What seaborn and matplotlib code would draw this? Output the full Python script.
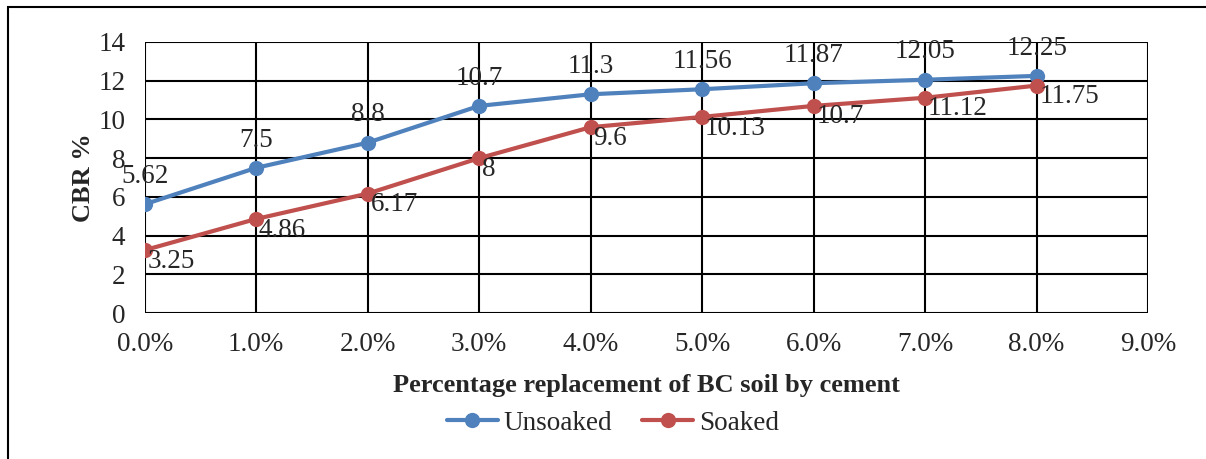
import pandas as pd
import numpy as np
import seaborn as sns
import matplotlib.pyplot as plt
from matplotlib.patches import Rectangle
from matplotlib.ticker import FuncFormatter

# data
replacement = [0.0, 1.0, 2.0, 3.0, 4.0, 5.0, 6.0, 7.0, 8.0]
unsoaked = [5.62, 7.5, 8.8, 10.7, 11.3, 11.56, 11.87, 12.05, 12.25]
soaked = [3.25, 4.86, 6.17, 8, 9.6, 10.13, 10.7, 11.12, 11.75]
series_names = ['Unsoaked', 'Soaked']
colors = ['#4F81BD', '#C0504D']

df = pd.DataFrame({
    'pct': replacement * 2,
    'cbr': unsoaked + soaked,
    'series': ['Unsoaked'] * len(unsoaked) + ['Soaked'] * len(soaked),
})

sns.set_style('white')
plt.rcParams['font.family'] = ['Liberation Serif', 'DejaVu Serif']

fig = plt.figure(figsize=(12.06, 4.59), dpi=100)
ax = fig.add_axes([0.120, 0.318, 0.832, 0.5905])

sns.lineplot(data=df, x='pct', y='cbr', hue='series', hue_order=series_names,
             palette=colors, marker='o', markersize=11, markeredgewidth=0,
             linewidth=3, ax=ax, legend=False)

ax.set_xlim(0, 9)
ax.set_ylim(0, 14)
ax.set_xticks(np.arange(0, 10, 1))
ax.set_yticks(np.arange(0, 15, 2))
ax.xaxis.set_major_formatter(FuncFormatter(lambda v, p: f'{v:.1f}%'))
ax.grid(True, color='black', linewidth=1.5)
ax.set_axisbelow(True)
for s in ax.spines.values():
    s.set_visible(False)
ax.tick_params(axis='both', labelsize=19.5, length=0)
ax.tick_params(axis='x', pad=14)
ax.tick_params(axis='y', pad=14)

ax.set_xlabel('Percentage replacement of BC soil by cement', fontsize=19,
              fontweight='bold', labelpad=12)
ax.set_ylabel('CBR %', fontsize=19, fontweight='bold', labelpad=2)

# data labels
for x, y in zip(replacement, unsoaked):
    ax.annotate(f'{y:g}', (x, y), textcoords='offset points', xytext=(0, 20),
                ha='center', va='center', fontsize=19.5)
for x, y in zip(replacement, soaked):
    ax.annotate(f'{y:g}', (x, y), textcoords='offset points', xytext=(2, -8),
                ha='left', va='center', fontsize=19.5)

handles = [plt.Line2D([], [], color=c, marker='o', markersize=11, linewidth=3,
                      markeredgewidth=0) for c in colors]
fig.legend(handles, series_names, loc='center', bbox_to_anchor=(0.508, 0.078),
           ncol=2, frameon=False, fontsize=19.5, handlelength=1.9,
           columnspacing=1.1, handletextpad=0.2)

fig.patches.append(Rectangle((0.007, -0.05), 1.1, 1.035, transform=fig.transFigure,
                             fill=False, edgecolor='black', linewidth=1.5))

fig.savefig('out.png', dpi=100)
